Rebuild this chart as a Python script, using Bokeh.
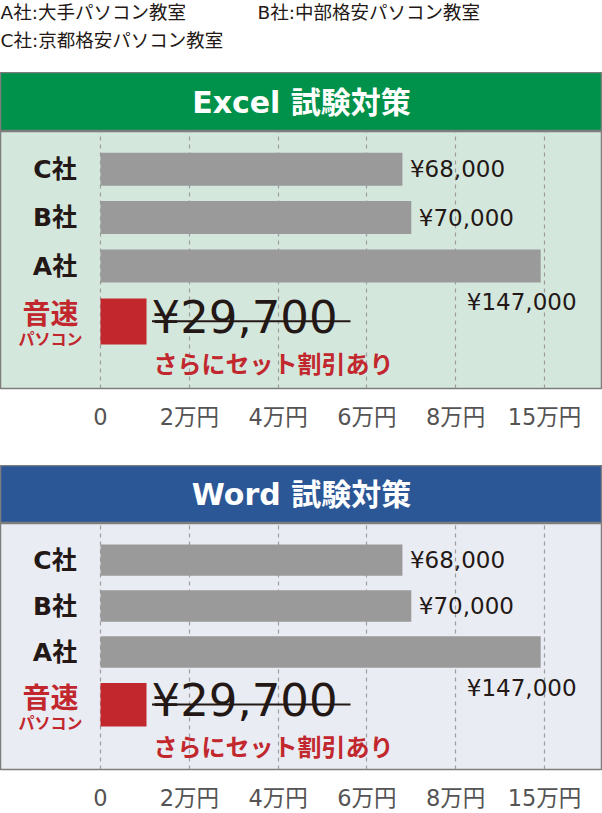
from bokeh.plotting import figure
from bokeh.layouts import column
from bokeh.models import Range1d, FixedTicker, ColumnDataSource
from bokeh.core.properties import value
from bokeh.embed import file_html
from bokeh.resources import INLINE

# ---------------- data ----------------
legend_lines = ["A社:大手パソコン教室", "B社:中部格安パソコン教室", "C社:京都格安パソコン教室"]
companies = ["C社", "B社", "A社"]
prices = [68000, 70000, 147000]
price_labels = ["¥68,000", "¥70,000", "¥147,000"]
our_name = "音速"
our_sub = "パソコン"
our_price_label = "¥29,700"
our_note = "さらにセット割引あり"
tick_values = [0, 20000, 40000, 60000, 80000, 150000]
tick_labels = ["0", "2万円", "4万円", "6万円", "8万円", "15万円"]
panel_titles = ["Excel 試験対策", "Word 試験対策"]
header_colors = ["#00914a", "#2b5797"]
area_colors = ["#d4e7dd", "#e9ecf3"]

# ---------------- layout constants (px) ----------------
W = 602
PX_PER_YEN = 444 / 100000.0      # px per display yen
ZERO_PX = 100                    # px of value 0 from the left edge
ROW_PX = 48.4                    # px per row
BREAK_AT, BREAK_TOP = 80000, 150000
BREAK_DISPLAY = 100000

JP = "Noto Sans CJK JP"
MIX = "DejaVu Sans, Noto Sans CJK JP"
NUM = "DejaVu Sans"
DARK = "#231815"
RED = "#c1272d"
BAR = "#9a9a9a"
BORDER = "#7d7d7d"


def axis_pos(v):
    """broken axis: values above 8万 are compressed so that 15万 sits at the 10万 slot"""
    if v <= BREAK_AT:
        return v
    return BREAK_AT + (v - BREAK_AT) * (BREAK_DISPLAY - BREAK_AT) / (BREAK_TOP - BREAK_AT)


tick_pos = [axis_pos(t) for t in tick_values]
x_start = -ZERO_PX / PX_PER_YEN
x_end = (W - ZERO_PX) / PX_PER_YEN


def legend_fig():
    h = 72
    p = figure(width=W, height=h, output_backend="svg", toolbar_location=None,
               x_range=Range1d(0, W), y_range=Range1d(h, 0),
               x_axis_location=None, y_axis_location=None, min_border=0, title=None)
    p.grid.visible = False
    p.outline_line_color = None
    p.background_fill_color = "white"
    src = ColumnDataSource(dict(x=[0, 257, 0], y=[11.5, 11.5, 40], t=legend_lines))
    p.text(x="x", y="y", text="t", source=src, text_font=value(MIX), text_font_size="18.5px",
           text_color=DARK, text_align="left", text_baseline="middle")
    return p


def header_fig(title, color, h):
    p = figure(width=W, height=h, output_backend="svg", toolbar_location=None,
               x_range=Range1d(0, 1), y_range=Range1d(0, 1),
               x_axis_location=None, y_axis_location=None, min_border=0, title=None)
    p.grid.visible = False
    p.background_fill_color = color
    p.border_fill_color = color
    p.outline_line_color = BORDER
    p.outline_line_width = 1.5
    p.text(x=[0.5], y=[0.5], text=[title], text_font=value(MIX), text_font_size="30px",
           text_font_style="bold", text_color="white", text_align="center", text_baseline="middle")
    return p


def chart_fig(area_color, frame_h, first_row_px, bottom):
    y_top = 3 + first_row_px / ROW_PX
    y_bottom = y_top - frame_h / ROW_PX
    p = figure(width=W, height=frame_h + bottom, output_backend="svg", toolbar_location=None,
               x_range=Range1d(x_start, x_end), y_range=Range1d(y_bottom, y_top),
               y_axis_location=None, min_border=0, title=None)
    p.min_border_bottom = bottom
    p.background_fill_color = area_color
    p.border_fill_color = "white"
    p.outline_line_color = BORDER
    p.outline_line_width = 1.5

    ticker = FixedTicker(ticks=tick_pos)
    ax = p.xaxis[0]
    ax.ticker = ticker
    ax.major_label_overrides = {tp: lab for tp, lab in zip(tick_pos, tick_labels)}
    ax.axis_line_color = None
    ax.major_tick_line_color = None
    ax.minor_tick_line_color = None
    ax.major_label_text_font = MIX
    ax.major_label_text_font_size = "22.5px"
    ax.major_label_text_color = "#555353"
    ax.major_label_standoff = 9
    p.xgrid.ticker = ticker
    p.xgrid.grid_line_color = "#9d9d9d"
    p.xgrid.grid_line_dash = "4 4"
    p.xgrid.grid_line_width = 1.2
    p.ygrid.visible = False

    rows = [3, 2, 1]
    disp = [axis_pos(v) for v in prices]
    src = ColumnDataSource(dict(y=rows, right=disp, name=companies, lab=price_labels))
    p.hbar(y="y", left=0, right="right", height=33 / ROW_PX, source=src,
           fill_color=BAR, line_color=None)

    # company names
    p.text(x=0, y="y", text="name", source=src, x_offset=-45.5,
           text_font=value(MIX), text_font_size="25px", text_font_style="bold",
           text_color=DARK, text_align="center", text_baseline="middle")

    # price labels: first two to the right of the bar, the long one below it
    s2 = ColumnDataSource(dict(y=rows[:2], x=disp[:2], lab=price_labels[:2]))
    p.text(x="x", y="y", text="lab", source=s2, x_offset=7.5,
           text_font=value(NUM), text_font_size="23px", text_color=DARK,
           text_align="left", text_baseline="middle")
    p.text(x=[disp[2]], y=[rows[2]], text=[price_labels[2]], x_offset=-19, y_offset=35.5,
           text_font=value(NUM), text_font_size="23px", text_color=DARK,
           text_align="center", text_baseline="middle")

    # our school row (row 0): red marker square, struck price, note
    sq = 46
    p.quad(left=[0], right=[sq / PX_PER_YEN], top=[(313.9 - 298) / ROW_PX],
           bottom=[-(344 - 313.9) / ROW_PX], fill_color=RED, line_color=None)
    p.text(x=[0], y=[0], text=[our_name], x_offset=-50, y_offset=-2.4,
           text_font=value(JP), text_font_size="28px", text_font_style="bold",
           text_color=RED, text_align="center", text_baseline="middle")
    p.text(x=[0], y=[0], text=[our_sub], x_offset=-50, y_offset=23.6,
           text_font=value(JP), text_font_size="16px", text_font_style="bold",
           text_color=RED, text_align="center", text_baseline="middle")
    p.text(x=[0], y=[0], text=[our_price_label], x_offset=51, y_offset=2.8,
           text_font=value(NUM), text_font_size="45px", text_color=DARK,
           text_align="left", text_baseline="middle")
    p.segment(x0=[51.5 / PX_PER_YEN], x1=[250 / PX_PER_YEN], y0=[-6.8 / ROW_PX], y1=[-6.8 / ROW_PX],
              line_color=DARK, line_width=2)
    p.text(x=[0], y=[0], text=[our_note], x_offset=53, y_offset=47.8,
           text_font=value(JP), text_font_size="24px", text_font_style="bold",
           text_color=RED, text_align="left", text_baseline="middle")
    return p


layout = column(
    legend_fig(),
    header_fig(panel_titles[0], header_colors[0], 59),
    chart_fig(area_colors[0], 257, 37.7, 77),
    header_fig(panel_titles[1], header_colors[1], 58),
    chart_fig(area_colors[1], 259, 38.5, 31),
    spacing=0,
)

open("out.html", "w").write(file_html(layout, INLINE))
